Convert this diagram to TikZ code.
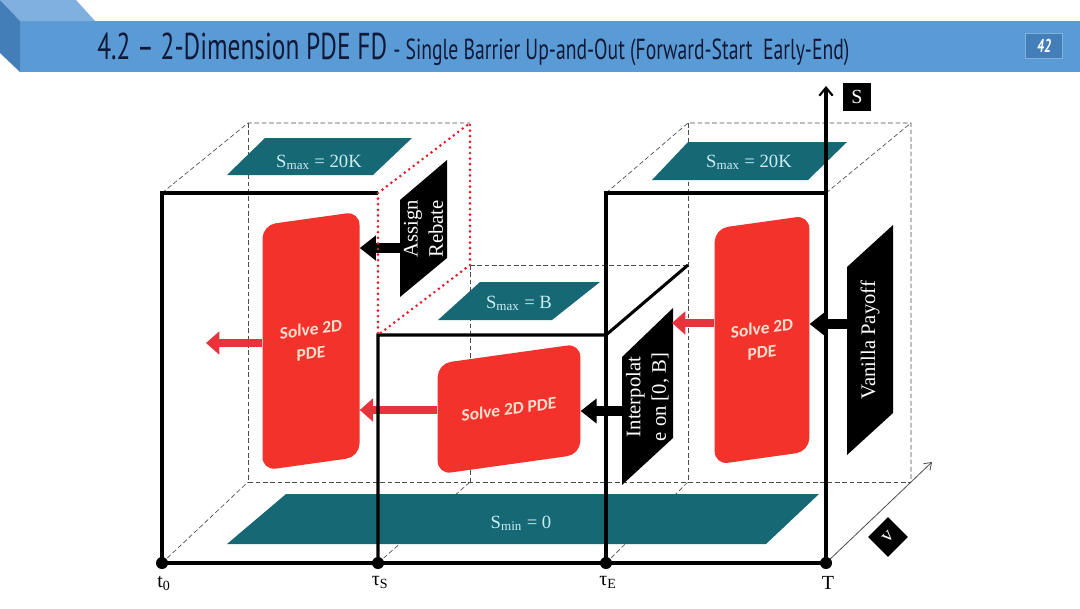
\documentclass[tikz,border=0pt]{standalone}
\usepackage{fontspec}
\setmainfont{Liberation Serif}
\newfontfamily\titlefont[FakeStretch=0.68]{PT Sans}
\newfontfamily\solvefont{Carlito}
\usetikzlibrary{arrows.meta}

\definecolor{barblue}{RGB}{91,155,213}
\definecolor{bartop}{RGB}{128,176,222}
\definecolor{barside}{RGB}{68,126,184}
\definecolor{titleink}{RGB}{16,26,56}
\definecolor{gridteal}{RGB}{23,104,117}
\definecolor{tealink}{RGB}{200,238,244}
\definecolor{solvered}{RGB}{244,50,44}
\definecolor{solveink}{RGB}{255,222,205}
\definecolor{arrowred}{RGB}{232,50,60}
\definecolor{dotred}{RGB}{226,30,44}

\begin{document}
\begin{tikzpicture}[x=0.75pt, y=-0.75pt,
        % solid front edges of the boxes
        front/.style={line width=2.3pt, black},
        % edges at the back
        hidden/.style={line width=0.5pt, gray!60!black, dash pattern=on 3.5pt off 2pt},
        % the red PDE blocks
        solve/.style={
            rectangle,
            rounded corners=10pt,
            fill=solvered,
            text=solveink,
            align=center,
            font=\solvefont\bfseries\fontsize{13}{18}\selectfont,
            yslant=0.14
        },
        % white text on the black slanted tags
        tag/.style={rotate=90, text=white, align=center, font=\fontsize{15.5}{19}\selectfont},
        % text on the teal planes
        plane/.style={anchor=base, text=tealink, font=\fontsize{14}{16}\selectfont},
        blockarrow/.style={line width=7pt, -{Triangle[width=18pt,length=12pt]}},
        redarrow/.style={arrowred, line width=6.5pt, -{Triangle[width=17pt,length=10pt]}},
        dot/.style={circle, fill=black, inner sep=0pt, minimum size=9pt},
        axislabel/.style={fill=black, text=white, inner sep=0pt, minimum size=21pt, font=\fontsize{15}{18}\selectfont}
    ]

    \useasboundingbox (0,0) rectangle (1080,608);
    \fill[white] (0,0) rectangle (1080,608);

    % header bar
    \fill[barblue] (20,21) rectangle (1080,72);
    \fill[bartop] (0,0) -- (76,0) -- (95,21) -- (20,21) -- cycle;
    \fill[barside] (0,0) -- (20,21) -- (20,72) -- (0,53) -- cycle;
    \node[anchor=base west, text=titleink, font=\titlefont\fontsize{28}{30}\selectfont, inner sep=0pt]
        (title) at (97,59) {4.2 – 2-Dimension PDE FD};
    \node[anchor=base west, text=titleink, font=\titlefont\fontsize{21.7}{23}\selectfont, inner sep=0pt]
        (subtitle) at (393,59) {- Single Barrier Up-and-Out (Forward-Start\ \ Early-End)};
    \node[fill=barside, draw=bartop, line width=0.8pt, text=white, minimum width=28pt, minimum height=19pt,
        inner sep=0pt, font=\titlefont\bfseries\itshape\fontsize{14}{14}\selectfont]
        (page) at (1044,46) {42};

    % hidden edges
    \draw[hidden] (162,193) -- (248,123) -- (470,123);
    \draw[hidden] (248,123) -- (248,482) -- (911,482);
    \draw[hidden] (162,563) -- (248,482);
    \draw[hidden] (470,265) -- (470,482);
    \draw[hidden] (378,563) -- (470,482);
    \draw[hidden] (470,265) -- (688,265);
    \draw[hidden] (606,193) -- (688,123) -- (911,123) -- (911,482);
    \draw[hidden] (826,193) -- (911,123);
    \draw[hidden] (688,123) -- (688,482);
    \draw[hidden] (606,563) -- (688,482);

    % teal planes
    \fill[gridteal] (265,138) -- (412,138) -- (373,175) -- (227,175) -- cycle;
    \fill[gridteal] (688,142) -- (847,142) -- (808,180) -- (652,180) -- cycle;
    \fill[gridteal] (480,282) -- (600,282) -- (552,320) -- (438,320) -- cycle;
    \fill[gridteal] (286,494) -- (819,494) -- (766,544) -- (227,544) -- cycle;
    \node[plane] (smaxl) at (319,167) {S\textsubscript{max} = 20K};
    \node[plane] (smaxr) at (749,167) {S\textsubscript{max} = 20K};
    \node[plane] (smaxb) at (519,308) {S\textsubscript{max} = B};
    \node[plane] (smin) at (521,528) {S\textsubscript{min} = 0};

    % red PDE blocks
    \node[solve, minimum width=72.75pt, minimum height=184pt] (lsolve) at (311,341) {Solve 2D\\PDE};
    \node[solve, minimum width=107pt, minimum height=83pt] (msolve) at (509,409) {Solve 2D PDE};
    \node[solve, minimum width=71pt, minimum height=177pt] (rsolve) at (762,340) {Solve 2D\\PDE};

    % black tags
    \fill (400,200) -- (447,160) -- (447,258) -- (400,297) -- cycle;
    \node[tag] (rebate) at (423.5,229) {Assign\\Rebate};
    \fill (622,357) -- (673,308) -- (673,438) -- (622,485) -- cycle;
    \node[tag] (interp) at (647.5,397) {Interpolat\\e on [0, B]};
    \fill (847,267) -- (893,225) -- (893,413) -- (847,455) -- cycle;
    \node[tag] (vanilla) at (870,340) {Vanilla Payoff};

    % arrows
    \coordinate (rebout) at (400,248);
    \coordinate (intout) at (622,411);
    \coordinate (vanout) at (847,324);
    \coordinate (lout) at (206,343);
    \coordinate (mout) at (437,410);
    \coordinate (rout) at (672,323);
    \draw[blockarrow] (rebout) -- (rebout -| lsolve.east);
    \draw[blockarrow] (intout) -- (intout -| msolve.east);
    \draw[blockarrow] (vanout) -- (vanout -| rsolve.east);
    \draw[redarrow] (lout -| lsolve.west) -- (lout);
    \draw[redarrow] (mout) -- (mout -| lsolve.east);
    \draw[redarrow] (rout -| rsolve.west) -- (rout);

    % front edges
    \draw[front] (162,563) -- (162,193) -- (378,193);
    \draw[front] (378,563) -- (378,335) -- (606,335) -- (688,265);
    \draw[front] (606,563) -- (606,193) -- (826,193);
    \draw[front] (162,563) -- (826,563);
    \draw[dotred, line width=2.2pt, dash pattern=on 0pt off 4.2pt, line cap=round]
        (378,193) -- (470,123) -- (470,265) -- (378,335) -- cycle;

    % axes
    \draw[front, -{Straight Barb[length=6pt,width=10pt,line width=1.6pt]}] (826,563) -- (826,86);
    \draw[gray!60!black, line width=0.6pt, -{Straight Barb[length=5pt,width=7pt]}] (826,563) -- (932,462);
    \node[axislabel] (slab) at (857,97) {S};
    \node[axislabel, rotate=45] (vlab) at (888,537) {v};

    % time points
    \foreach \x/\nm/\lab in {162/t0/{t\textsubscript{0}}, 378/ts/{τ\textsubscript{S}}, 606/te/{τ\textsubscript{E}}, 826/tT/T}
    {
        \node[dot] (\nm) at (\x,563) {};
        \node[anchor=north, font=\fontsize{15}{18}\selectfont] (\nm lab) at (\x+2,572) {\lab};
    }

\end{tikzpicture}
\end{document}
